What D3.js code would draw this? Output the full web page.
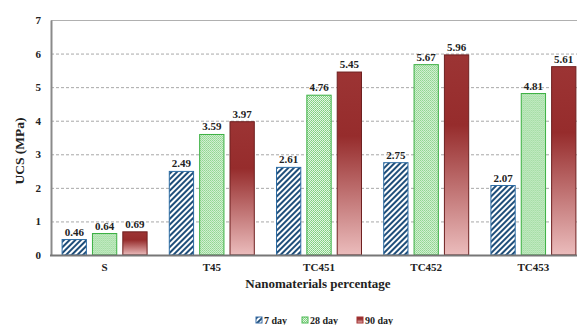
<!DOCTYPE html>
<html>
<head>
<meta charset="utf-8">
<script src="https://cdn.jsdelivr.net/npm/d3@7"></script>
<style>
  body { margin: 0; background: #fff; }
  svg { display: block; font-family: "Liberation Serif", "Times New Roman", serif; font-weight: bold; }
</style>
</head>
<body>
<svg id="chart" width="577" height="325"></svg>
<script>
// data
var categories = ["S", "T45", "TC451", "TC452", "TC453"];
var series = ["7 day", "28 day", "90 day"];
var day7 = [0.46, 2.49, 2.61, 2.75, 2.07];
var day28 = [0.64, 3.59, 4.76, 5.67, 4.81];
var day90 = [0.69, 3.97, 5.45, 5.96, 5.61];
var yTicks = [0, 1, 2, 3, 4, 5, 6, 7];

var values = [day7, day28, day90];

var svg = d3.select("#chart"),
    margin = {left: 51, top: 20};

var x0 = d3.scaleBand()
    .domain(categories)
    .range([margin.left, 587])
    .padding(0);

var x1 = d3.scaleBand()
    .domain(series)
    .range([-42.5, 42.5])
    .paddingInner(0.2);

var y = d3.scaleLinear()
    .domain([0, 7])
    .range([255, margin.top]);

// patterns and gradient
var defs = svg.append("defs");

var stripe = defs.append("pattern")
    .attr("id", "stripe")
    .attr("patternUnits", "userSpaceOnUse")
    .attr("width", 4).attr("height", 4)
    .attr("patternTransform", "rotate(45)");
stripe.append("rect").attr("width", 4).attr("height", 4).attr("fill", "#fff");
stripe.append("rect").attr("width", 2).attr("height", 4).attr("fill", "#1f4e7a");

var dots = defs.append("pattern")
    .attr("id", "dots")
    .attr("patternUnits", "userSpaceOnUse")
    .attr("width", 2).attr("height", 2);
dots.append("rect").attr("width", 2).attr("height", 2).attr("fill", "#e4f5e4");
dots.append("rect").attr("width", 1).attr("height", 1).attr("fill", "#7ccf7c");
dots.append("rect").attr("x", 1).attr("y", 1).attr("width", 1).attr("height", 1).attr("fill", "#8fd88f");

var grad = defs.append("linearGradient")
    .attr("id", "redgrad")
    .attr("x1", 0).attr("y1", 0).attr("x2", 0).attr("y2", 1);
grad.append("stop").attr("offset", "0%").attr("stop-color", "#9c3434");
grad.append("stop").attr("offset", "35%").attr("stop-color", "#962c2c");
grad.append("stop").attr("offset", "100%").attr("stop-color", "#ebbcbc");

var fills = ["url(#stripe)", "url(#dots)", "url(#redgrad)"],
    strokes = ["#2e6da4", "#3cb043", "#6e2020"],
    swatch = ["#3a6fa8", "#4cbb55", "#a33030"];

// grid lines
svg.append("g").selectAll("line")
    .data(yTicks.filter(function(d) { return d > 0 && d < 7; }))
  .enter().append("line")
    .attr("x1", margin.left).attr("x2", 577)
    .attr("y1", function(d) { return y(d) + 0.5; })
    .attr("y2", function(d) { return y(d) + 0.5; })
    .attr("stroke", "#a8a8a8")
    .attr("stroke-dasharray", "3,2");

// top frame
svg.append("line")
    .attr("x1", margin.left).attr("x2", 577)
    .attr("y1", y(7) + 0.5).attr("y2", y(7) + 0.5)
    .attr("stroke", "#b0b0b0");

// y axis
var yAxis = svg.append("g")
    .attr("transform", "translate(" + margin.left + ",0)")
    .call(d3.axisLeft(y).tickValues(yTicks).tickSize(0).tickPadding(10).tickFormat(d3.format("d")));
yAxis.select(".domain").attr("stroke", "#8a8a8a").attr("stroke-width", 2);
yAxis.selectAll("text")
    .attr("fill", "#222")
    .style("font-size", "11px")
    .style("font-family", "Liberation Serif, serif")
    .style("font-weight", "bold");

// bars
var groups = svg.append("g").selectAll("g")
    .data(categories)
  .enter().append("g")
    .attr("transform", function(d) { return "translate(" + (x0(d) + x0.bandwidth() / 2) + ",0)"; });

groups.selectAll("rect")
    .data(function(d, i) { return series.map(function(s, j) { return {s: s, j: j, v: values[j][i]}; }); })
  .enter().append("rect")
    .attr("x", function(d) { return x1(d.s); })
    .attr("y", function(d) { return y(d.v); })
    .attr("width", x1.bandwidth())
    .attr("height", function(d) { return y(0) - y(d.v); })
    .attr("fill", function(d) { return fills[d.j]; })
    .attr("stroke", function(d) { return strokes[d.j]; })
    .attr("stroke-width", 1);

groups.selectAll("text.val")
    .data(function(d, i) { return series.map(function(s, j) { return {s: s, j: j, v: values[j][i]}; }); })
  .enter().append("text")
    .attr("class", "val")
    .attr("x", function(d) { return x1(d.s) + x1.bandwidth() / 2; })
    .attr("y", function(d) { return y(d.v) - 4; })
    .attr("text-anchor", "middle")
    .attr("fill", "#222")
    .style("font-size", "11px")
    .text(function(d) { return d3.format(".2f")(d.v); });

// x axis
svg.append("line")
    .attr("x1", margin.left - 1).attr("x2", 577)
    .attr("y1", y(0) + 0.5).attr("y2", y(0) + 0.5)
    .attr("stroke", "#777").attr("stroke-width", 2);

svg.append("g").selectAll("text")
    .data(categories)
  .enter().append("text")
    .attr("x", function(d) { return x0(d) + x0.bandwidth() / 2; })
    .attr("y", 271)
    .attr("text-anchor", "middle")
    .attr("fill", "#222")
    .style("font-size", "11px")
    .text(function(d) { return d; });

svg.append("text")
    .attr("x", 318).attr("y", 288)
    .attr("text-anchor", "middle")
    .attr("fill", "#222")
    .style("font-size", "13px")
    .text("Nanomaterials percentage");

svg.append("text")
    .attr("transform", "translate(24,151) rotate(-90)")
    .attr("text-anchor", "middle")
    .attr("fill", "#222")
    .style("font-size", "13.5px")
    .text("UCS (MPa)");

// legend
var legendX = [256, 302, 357];
var legend = svg.append("g").selectAll("g")
    .data(series)
  .enter().append("g")
    .attr("transform", function(d, i) { return "translate(" + legendX[i] + ",317)"; });

legend.append("rect")
    .attr("width", 6).attr("height", 6)
    .attr("fill", function(d, i) { return fills[i]; })
    .attr("stroke", function(d, i) { return swatch[i]; });

legend.append("text")
    .attr("x", 8).attr("y", 7)
    .attr("fill", "#222")
    .style("font-size", "10px")
    .text(function(d) { return d; });
</script>
</body>
</html>
